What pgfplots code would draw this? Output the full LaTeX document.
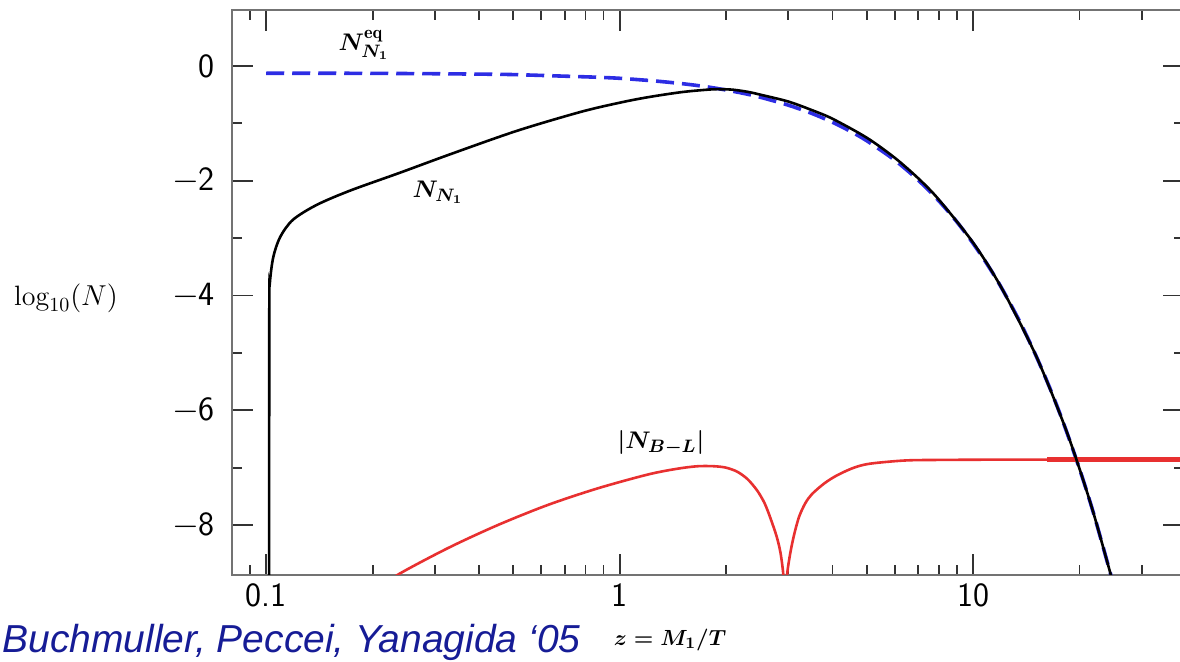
\documentclass[border=0pt]{standalone}
\usepackage{pgfplots}
\pgfplotsset{compat=1.18}
\usepackage{fontspec}
\newfontfamily\arialfont{Liberation Sans}
\definecolor{eqblue}{RGB}{45,45,228}
\definecolor{blred}{RGB}{232,48,48}
\definecolor{citeblue}{RGB}{22,28,150}
\begin{document}
\begin{tikzpicture}
\useasboundingbox (0,0) rectangle (590pt,331pt);
\clip (0,0) rectangle (590pt,331pt);
\begin{axis}[
    at={(116pt,43.5pt)}, anchor=south west,
    scale only axis, width=476pt, height=282.5pt,
    xmode=log, xmin=0.08, xmax=39.5,
    ymin=-8.87, ymax=0.976,
    xtick={0.1,1,10}, xticklabels={0.1,1,10},
    minor xtick={0.08,0.09,0.2,0.3,0.4,0.5,0.6,0.7,0.8,0.9,2,3,4,5,6,7,8,9,20,30},
    ytick={-8,-6,-4,-2,0}, yticklabels={$-$8,$-$6,$-$4,$-$2,0},
    minor ytick={-7,-5,-3,-1},
    major tick length=10.5pt, minor tick length=5pt,
    tick label style={font=\sffamily\fontsize{17}{19}\selectfont},
    yticklabel style={xshift=-5pt},
    xticklabel style={yshift=-1pt},
    axis line style={black!55, line width=1pt},
    tick style={black!80, line width=0.9pt},
    ]
% N_N1 equilibrium
\addplot[eqblue, line width=1.8pt, dash pattern=on 9pt off 4pt, smooth, tension=0.5] coordinates {
(0.1,-0.126) (0.15,-0.127) (0.2,-0.129) (0.3,-0.135) (0.4,-0.142) (0.5,-0.150)
(0.7,-0.178) (0.85,-0.195) (1,-0.215) (1.25,-0.26) (1.5,-0.308) (1.75,-0.36)
(2,-0.419) (2.25,-0.48) (2.5,-0.545) (3,-0.683) (3.5,-0.828) (4,-0.981)
(4.5,-1.140) (5,-1.303) (6,-1.641) (7,-1.992) (8,-2.352) (9,-2.719)
(10,-3.094) (11,-3.472) (12,-3.855) (13.5,-4.437) (15,-5.026) (16.5,-5.62)
(18,-6.218) (20,-7.022) (22,-7.833) (25,-9.056)};
% |N_B-L|
\addplot[blred, line width=1.3pt, smooth, tension=0.5] coordinates {
(0.22,-9.05) (0.235,-8.87) (0.327,-8.40) (0.452,-8.00) (0.626,-7.65) (0.867,-7.36)
(1.20,-7.12) (1.45,-7.02) (1.66,-6.975) (1.85,-6.975) (2.0,-7.0) (2.15,-7.07)
(2.3,-7.2) (2.45,-7.4) (2.57,-7.62) (2.67,-7.88) (2.78,-8.2) (2.85,-8.48)
(2.9,-8.83) (2.925,-9.2) (2.94,-10)};
\addplot[blred, line width=1.3pt, smooth, tension=0.5] coordinates {
(2.94,-10) (2.955,-9.2) (2.98,-8.83) (3.04,-8.48) (3.12,-8.15) (3.22,-7.85)
(3.35,-7.62) (3.5,-7.46) (3.8,-7.27) (4.13,-7.13) (4.6,-7.0) (5.11,-6.93)
(6.4,-6.875) (8,-6.865) (12,-6.86) (20,-6.86) (39.5,-6.86)};
\addplot[blred, line width=2.3pt] coordinates {(16.2,-6.86) (39.5,-6.86)};
% N_N1
\addplot[black, line width=1.3pt, smooth, tension=0.5] coordinates {
(0.1019,-9.5) (0.1020,-4.3) (0.1024,-3.78) (0.1047,-3.33) (0.1095,-2.98)
(0.119,-2.68) (0.139,-2.42) (0.173,-2.17) (0.239,-1.86) (0.331,-1.54)
(0.512,-1.13) (0.776,-0.80) (1.0,-0.64) (1.2,-0.545) (1.5,-0.455) (1.8,-0.41)
(1.95,-0.405) (2.1,-0.415) (2.3,-0.45) (2.5,-0.50) (3,-0.62) (3.5,-0.77)
(4,-0.92) (5,-1.25) (6,-1.60) (7,-1.96) (8,-2.33) (10,-3.08) (12,-3.855)
(15,-5.026) (18,-6.218) (20,-7.022) (22,-7.833) (25,-9.056)};
\end{axis}
\node[font=\fontsize{13}{15}\selectfont\boldmath] at (182pt,308.5pt) {$N^{\mathrm{eq}}_{N_1}$};
\node[font=\fontsize{13}{15}\selectfont\boldmath] at (219pt,235pt) {$N_{N_1}$};
\node[font=\fontsize{13}{15}\selectfont\boldmath] at (330.5pt,109.5pt) {$|N_{B-L}|$};
\node[font=\fontsize{14}{16}\selectfont] at (33pt,182pt) {$\log_{10}(N)$};
\node[font=\fontsize{11}{13}\selectfont\boldmath] at (335pt,11pt) {$z = M_1/T$};
\node[anchor=base west, inner sep=0pt, text=citeblue,
      font=\arialfont\itshape\fontsize{19.5}{22}\selectfont] at (1pt,4.5pt)
      {Buchmuller, Peccei, Yanagida ‘05};
\end{tikzpicture}
\end{document}
